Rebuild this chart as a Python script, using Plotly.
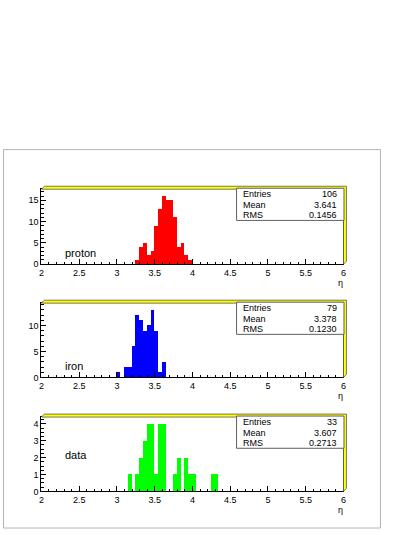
from plotly.subplots import make_subplots
import plotly.graph_objects as go

W, H = 414, 535

# bin centres (width 0.05) and counts
proton_eta = [3.275, 3.325, 3.375, 3.425, 3.475, 3.525, 3.575, 3.625, 3.675, 3.725,
              3.775, 3.825, 3.875, 3.925, 3.975]
proton_n = [1, 4, 5, 2, 3, 9, 13, 16, 15, 15, 11, 4, 5, 2, 1]

iron_eta = [3.025, 3.125, 3.175, 3.225, 3.275, 3.325, 3.375, 3.425, 3.475, 3.525,
            3.575, 3.625]
iron_n = [1, 2, 2, 6, 12, 11, 9, 10, 13, 9, 1, 3]

data_eta = [3.175, 3.275, 3.325, 3.375, 3.425, 3.475, 3.525, 3.575, 3.625, 3.775,
            3.825, 3.925, 3.975, 4.025, 4.275, 4.325]
data_n = [1, 1, 2, 3, 4, 4, 1, 4, 4, 1, 2, 2, 1, 1, 1, 1]

names = ["proton", "iron", "data"]
colors = ["#ff0000", "#0000ff", "#00ff00"]
entries = ["106", "79", "33"]
means = ["3.641", "3.378", "3.607"]
rms = ["0.1456", "0.1230", "0.2713"]
y_max = [17.6, 14.3, 4.4]
y_dtick = [5, 5, 1]
y_minor = [1, 1, 0.25]

# pixel geometry of the three frames
x_left, x_right = 39, 345.5
tops = [191, 306, 421]
bottoms = [266.7, 381, 496]

def fx(p):
  return p / W

def fy(p):
  return 1 - p / H

font = dict(family="Liberation Sans, Arial, sans-serif", size=9, color="black")

fig = make_subplots(rows=3, cols=1)
series = [(proton_eta, proton_n), (iron_eta, iron_n), (data_eta, data_n)]
shapes = []
ann = []

# canvas frame
shapes.append(dict(type="rect", xref="paper", yref="paper", x0=fx(0.5), x1=fx(383),
                   y0=fy(533), y1=fy(151), line=dict(color="#b4b4b4", width=1)))

for i in range(3):
  r = i + 1
  xs, ns = series[i]
  fig.add_trace(go.Bar(x=xs, y=ns, width=0.05, marker=dict(color=colors[i], line=dict(width=0)),
                       showlegend=False, hoverinfo="skip"), row=r, col=1)
  fig.update_xaxes(domain=[fx(x_left), fx(x_right)], range=[2, 6], dtick=0.5, tick0=2,
                   ticks="inside", ticklen=5, tickcolor="black", showline=True, linecolor="black",
                   linewidth=1, mirror=True, showgrid=False, zeroline=False, tickfont=font,
                   minor=dict(ticks="inside", ticklen=2.5, dtick=0.1, tickcolor="black"),
                   row=r, col=1)
  fig.update_yaxes(domain=[fy(bottoms[i]), fy(tops[i])], range=[0, y_max[i]], dtick=y_dtick[i],
                   ticks="inside", ticklen=5, tickcolor="black", showline=True, linecolor="black",
                   linewidth=1, mirror=True, showgrid=False, zeroline=False, tickfont=font,
                   minor=dict(ticks="inside", ticklen=2.5, dtick=y_minor[i], tickcolor="black"),
                   row=r, col=1)

  t, b = tops[i], bottoms[i]
  # yellow 3D border on top and right
  path = (f"M {fx(x_left)},{fy(t)} L {fx(x_left + 3)},{fy(t - 3)} L {fx(x_right + 3)},{fy(t - 3)} "
          f"L {fx(x_right + 3)},{fy(b - 3)} L {fx(x_right)},{fy(b)} L {fx(x_right)},{fy(t)} Z")
  shapes.append(dict(type="path", xref="paper", yref="paper", path=path,
                     fillcolor="#ffff00", line=dict(color="#555555", width=0.8)))

  # stats box
  shapes.append(dict(type="rect", xref="paper", yref="paper", x0=fx(237), x1=fx(346),
                     y0=fy(t + 31.5), y1=fy(t - 1), fillcolor="white",
                     line=dict(color="#606060", width=1)))
  rows = [("Entries", entries[i]), ("Mean", means[i]), ("RMS", rms[i])]
  for k, (lab, val) in enumerate(rows):
    yy = fy(t + 5 + k * 10.7)
    ann.append(dict(xref="paper", yref="paper", x=fx(242), y=yy, text=lab, showarrow=False,
                    xanchor="left", yanchor="middle", font=font))
    ann.append(dict(xref="paper", yref="paper", x=fx(341), y=yy, text=val, showarrow=False,
                    xanchor="right", yanchor="middle", font=font))

  # particle label
  ann.append(dict(xref="paper", yref="paper", x=fx(61), y=fy(b - 11.5 if i < 2 else b - 37),
                  text=names[i], showarrow=False, xanchor="left", yanchor="middle",
                  font=dict(family=font["family"], size=11, color="black")))
  # axis title
  ann.append(dict(xref="paper", yref="paper", x=fx(342), y=fy(b + 19), text="η", showarrow=False,
                  xanchor="center", yanchor="middle", font=dict(family=font["family"], size=9, color="black")))

fig.update_layout(width=W, height=H, margin=dict(l=0, r=0, t=0, b=0), bargap=0,
                  plot_bgcolor="white", paper_bgcolor="white", shapes=shapes, annotations=ann)
fig.write_html("out.html", config={"displayModeBar": False},
               post_script="document.body.style.margin='0';document.body.style.overflow='hidden';")
